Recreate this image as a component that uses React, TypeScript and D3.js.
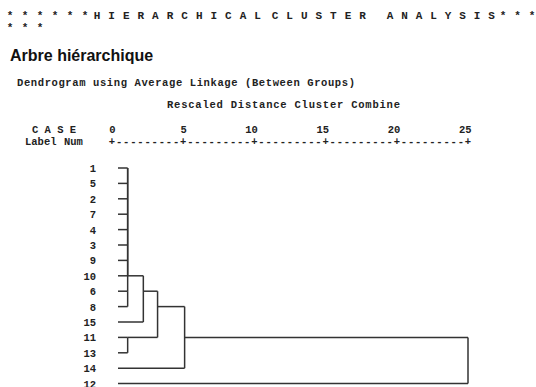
import * as d3 from "d3";

// leaf order as printed by SPSS (top to bottom)
const caseLabels = ["1", "5", "2", "7", "4", "3", "9", "10", "6", "8", "15", "11", "13", "14", "12"];

// agglomeration: clusters are referred to by any member case
const mergeLeft = ["1", "6", "1", "1", "1", "1", "1", "1", "1", "11", "1", "1", "1", "1"];
const mergeRight = ["5", "8", "2", "7", "4", "3", "9", "10", "6", "13", "15", "11", "14", "12"];
const mergeDistance = [1.1, 1.1, 1.1, 1.1, 1.1, 1.1, 1.1, 1.1, 1.1, 1.1, 2.2, 3.2, 5.1, 25];

const axisTicks = [0, 5, 10, 15, 20, 25];

// banner words, printed letter by letter
const bannerWords = ["******", "HIERARCHICAL", "CLUSTER", "ANALYSIS", "***"];
const bannerWrap = "***";
const titleText = "Arbre hiérarchique";
const subtitleText = "Dendrogram using Average Linkage (Between Groups)";
const axisTitle = "Rescaled Distance Cluster Combine";

const width = 536;
const height = 387;
const mono = "'Liberation Mono', 'DejaVu Sans Mono', monospace";
const ink = "#222";

// banner placement: centre of first glyph and glyph pitch for each word
const bannerAt = [
  [10, 15],
  [97, 14.6],
  [275, 14.6],
  [390, 14.5],
  [503, 14.5],
];

const x = d3.scaleLinear().domain([0, 25]).range([112, 468]);
const y = d3.scalePoint<string>().domain(caseLabels).range([168, 383.6]);

type Seg = { x1: number; y1: number; x2: number; y2: number };

function buildLinks() {
  const leafStart = x(0) + 6;
  // each case points to its current cluster
  const owner = new Map<string, { row: number; x: number }>();
  caseLabels.forEach((c, i) => owner.set(c, { row: i, x: leafStart }));
  const members = new Map<any, string[]>();
  caseLabels.forEach((c) => members.set(owner.get(c), [c]));

  const segs: Seg[] = [];
  const rowY = (r: number) => y(caseLabels[r]) as number;

  mergeLeft.forEach((l, i) => {
    const a = owner.get(l)!;
    const b = owner.get(mergeRight[i])!;
    const mx = x(mergeDistance[i]);
    segs.push({ x1: a.x, y1: rowY(a.row), x2: mx, y2: rowY(a.row) });
    segs.push({ x1: b.x, y1: rowY(b.row), x2: mx, y2: rowY(b.row) });
    segs.push({ x1: mx, y1: rowY(a.row), x2: mx, y2: rowY(b.row) });
    // SPSS draws the joined cluster from the middle row of its two parts
    const joined = { row: Math.floor((a.row + b.row) / 2), x: mx };
    const all = [...members.get(a)!, ...members.get(b)!];
    members.set(joined, all);
    all.forEach((c) => owner.set(c, joined));
  });
  return segs;
}

const Spaced = ({ text, cx, pitch, yy }: { text: string; cx: number; pitch: number; yy: number }) => (
  <>
    {text.split("").map((ch, i) => (
      <text key={i} x={cx + i * pitch} y={yy} textAnchor="middle">
        {ch}
      </text>
    ))}
  </>
);

const Dendrogram = () => {
  const segs = buildLinks();
  const step = x(5) - x(0);

  return (
    <svg
      width={width}
      height={height}
      style={{ position: "absolute", left: 0, top: 0, background: "#fff" }}
    >
      <g fill={ink} fontFamily={mono} fontWeight="bold" fontSize={11}>
        {bannerWords.map((w, i) => (
          <Spaced key={w + i} text={w} cx={bannerAt[i][0]} pitch={bannerAt[i][1]} yy={19} />
        ))}
        <Spaced text={bannerWrap} cx={10} pitch={15} yy={31} />
      </g>

      <text
        x={10}
        y={61}
        fontFamily="'Liberation Sans', Arial, sans-serif"
        fontWeight="bold"
        fontSize={16}
        fill="#111"
      >
        {titleText}
      </text>

      <g fill={ink} fontFamily={mono} fontWeight="bold" fontSize={10.5}>
        <text x={17} y={86} textLength={338} lengthAdjust="spacing">
          {subtitleText}
        </text>
        <text x={167} y={108} textLength={233} lengthAdjust="spacing">
          {axisTitle}
        </text>
        <text x={32} y={133} textLength={44} lengthAdjust="spacing">
          C A S E
        </text>
        <text x={25} y={145}>Label</text>
        <text x={64} y={145}>Num</text>

        {axisTicks.map((t) => (
          <text key={"n" + t} x={x(t) + 3.5} y={133} textAnchor="end">
            {t}
          </text>
        ))}
        {axisTicks.map((t) => (
          <text key={"p" + t} x={x(t)} y={145} textAnchor="middle">
            +
          </text>
        ))}
        {axisTicks.slice(0, -1).map((t) =>
          d3.range(1, 10).map((k) => (
            <text
              key={"d" + t + "-" + k}
              x={x(t) + (k * step) / 10}
              y={145}
              textAnchor="middle"
            >
              -
            </text>
          ))
        )}

        {caseLabels.map((c) => (
          <text key={"l" + c} x={96} y={(y(c) as number) + 4} textAnchor="end">
            {c}
          </text>
        ))}
      </g>

      <g stroke="#333" strokeWidth={1.5} fill="none">
        {segs.map((s, i) => (
          <line key={i} x1={s.x1} y1={s.y1} x2={s.x2} y2={s.y2} />
        ))}
      </g>
    </svg>
  );
};

export default function App() {
  return <Dendrogram />;
}
